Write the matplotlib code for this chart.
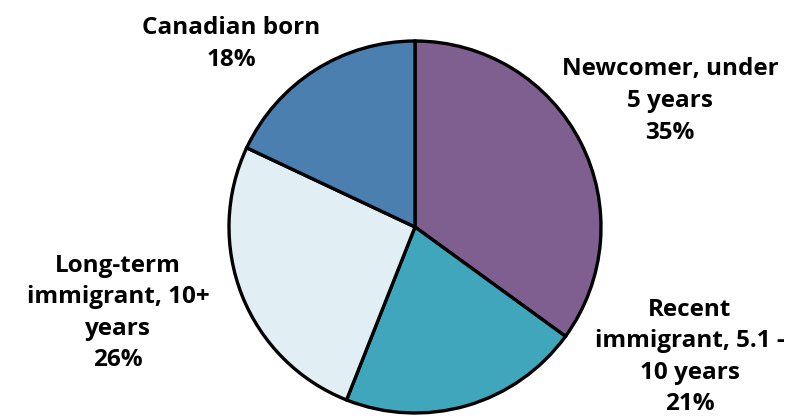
import matplotlib.pyplot as plt

labels = ["Newcomer, under\n5 years", "Recent\nimmigrant, 5.1 -\n10 years",
          "Long-term\nimmigrant, 10+\nyears", "Canadian born"]
shares = [35, 21, 26, 18]
colors = ["#7f5f8f", "#40a6bb", "#e1eff5", "#4a7fb0"]

# label anchor points in pixel coords (x, y from top)
label_pos = [(670, 101), (690, 357), (118, 313), (231, 44)]

W, H = 790, 419
fig = plt.figure(figsize=(W / 100, H / 100), dpi=100)
ax = fig.add_axes([0, 0, 1, 1])
ax.axis("off")

ax.pie(shares, colors=colors, startangle=90, counterclock=False,
       center=(415, H - 227), radius=186,
       wedgeprops=dict(edgecolor="black", linewidth=2.4))
ax.set_xlim(0, W)
ax.set_ylim(0, H)
ax.set_aspect("equal")

for lab, val, (x, y) in zip(labels, shares, label_pos):
    ax.text(x, H - y, f"{lab}\n{val}%", ha="center", va="center",
            fontsize=17.5, fontweight="bold", family="Open Sans",
            linespacing=1.42)

fig.savefig("out.png", dpi=100)
